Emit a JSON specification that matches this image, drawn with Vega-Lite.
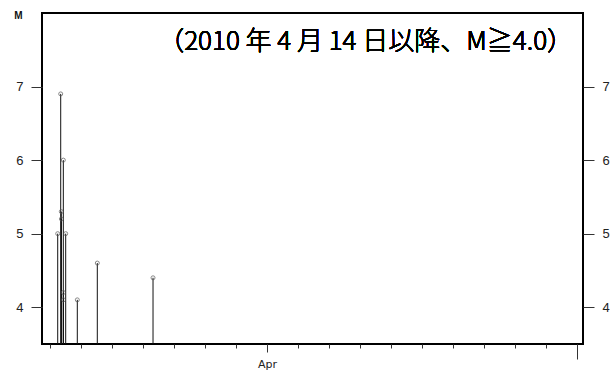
{
  "$schema": "https://vega.github.io/schema/vega-lite/v6.json",
  "width": 541,
  "height": 331,
  "autosize": {"type": "none"},
  "padding": {"left": 42, "top": 13, "right": 32, "bottom": 30},
  "background": "white",
  "config": {
    "view": {"stroke": "#000", "strokeWidth": 2},
    "axis": {"grid": false, "domain": false, "labelFont": "Liberation Sans", "labelColor": "#222", "tickColor": "#333", "tickWidth": 1}
  },
  "data": {
    "values": [
      {"time": "2010-04-14T05:58:00", "M": 5.0},
      {"time": "2010-04-14T08:17:00", "M": 6.9},
      {"time": "2010-04-14T08:45:00", "M": 5.3},
      {"time": "2010-04-14T08:50:00", "M": 5.2},
      {"time": "2010-04-14T10:18:00", "M": 6.0},
      {"time": "2010-04-14T10:20:00", "M": 4.2},
      {"time": "2010-04-14T10:25:00", "M": 4.1},
      {"time": "2010-04-14T12:09:00", "M": 5.0},
      {"time": "2010-04-14T21:08:00", "M": 4.1},
      {"time": "2010-04-15T12:37:00", "M": 4.6},
      {"time": "2010-04-17T07:45:00", "M": 4.4}
    ]
  },
  "layer": [
    {
      "mark": {"type": "rule", "color": "#111", "strokeWidth": 1},
      "encoding": {
        "x": {
          "field": "time", "type": "temporal",
          "scale": {"domain": [{"year": 2010, "month": 4, "date": 13, "hours": 17, "minutes": 48}, {"year": 2010, "month": 5, "date": 1, "hours": 4, "minutes": 38}]},
          "axis": {"orient": "bottom", "tickCount": {"interval": "day", "step": 1}, "labels": false, "tickSize": 4, "title": null}
        },
        "y": {
          "field": "M", "type": "quantitative",
          "scale": {"domain": [3.5, 8.0], "nice": false, "zero": false},
          "axis": {"orient": "left", "values": [4, 5, 6, 7], "tickSize": 11, "labelPadding": 8, "labelFontSize": 13,
                   "title": "M", "titleAngle": 0, "titleAlign": "center", "titleBaseline": "alphabetic", "titleX": -24, "titleY": 5,
                   "titleFont": "Liberation Sans", "titleFontSize": 10, "titleFontWeight": "bold", "titleColor": "#111"}
        },
        "y2": {"datum": 3.5}
      }
    },
    {
      "mark": {"type": "point", "shape": "circle", "filled": false, "stroke": "#555", "strokeWidth": 1, "size": 16},
      "encoding": {
        "x": {
          "field": "time", "type": "temporal",
          "axis": {"orient": "bottom", "values": [{"year": 2010, "month": 4, "date": 21}], "labelExpr": "'Apr'", "tickSize": 8, "labelPadding": 6, "labelFont": "DejaVu Sans", "labelFontSize": 11, "title": null}
        },
        "y": {
          "field": "M", "type": "quantitative",
          "axis": {"orient": "right", "values": [4, 5, 6, 7], "tickSize": 11, "labelPadding": 8, "labelFontSize": 13, "title": null}
        }
      }
    },
    {
      "mark": {"type": "text", "font": "Noto Sans CJK JP", "fontSize": 26, "fontWeight": 300, "align": "center", "baseline": "middle", "color": "#000"},
      "encoding": {
        "x": {
          "datum": {"year": 2010, "month": 4, "date": 24, "hours": 4, "minutes": 20}, "type": "temporal",
          "axis": {"orient": "bottom", "values": [{"year": 2010, "month": 5, "date": 1}], "labels": false, "tickSize": 15, "title": null}
        },
        "y": {"datum": 7.6, "type": "quantitative", "axis": null},
        "text": {"value": "（2010 年 4 月 14 日以降、M≧4.0）"}
      }
    }
  ],
  "resolve": {"axis": {"x": "independent", "y": "independent"}}
}
